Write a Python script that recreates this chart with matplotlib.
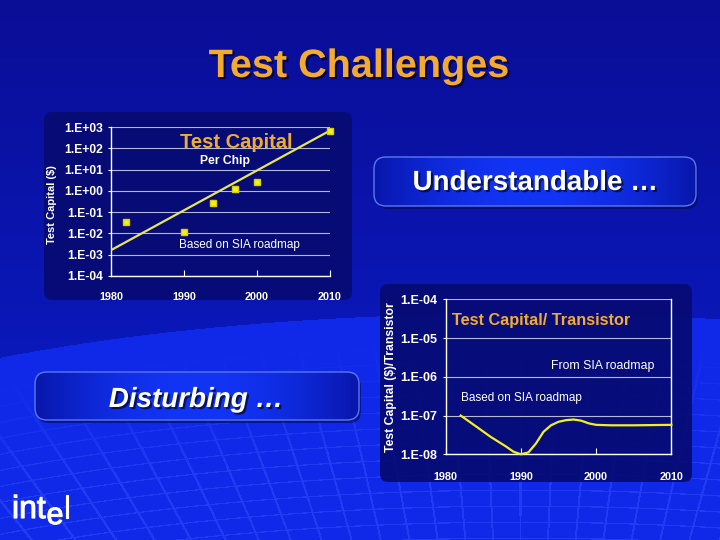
import numpy as np
import matplotlib
matplotlib.use("Agg")
import matplotlib.pyplot as plt
import matplotlib.patheffects as pe
from matplotlib.patches import FancyBboxPatch
from matplotlib.ticker import NullLocator

plt.rcParams["font.family"] = ["Liberation Sans", "DejaVu Sans"]

# ── Data ──────────────────────────────────────────────────────────────────────

# Test capital per chip ($), yearly points and fitted trend
CHIP_YEARS = [1982, 1990, 1994, 1997, 2000, 2010]
CHIP_COST = [0.033, 0.011, 0.27, 1.25, 2.7, 700]
TREND_YEARS = [1980, 2010]
TREND_COST = [0.0016, 700]
CHIP_YTICKS = [1e-4, 1e-3, 1e-2, 1e-1, 1e0, 1e1, 1e2, 1e3]
CHIP_YLABELS = ["1.E-04", "1.E-03", "1.E-02", "1.E-01",
                "1.E+00", "1.E+01", "1.E+02", "1.E+03"]

# Test capital per transistor ($)
TRANS_YEARS = [1982, 1984, 1986, 1988, 1989, 1990, 1991, 1992, 1993, 1994,
               1995, 1996, 1997, 1998, 1999, 2000, 2002, 2005, 2010]
TRANS_COST = [1.0e-7, 5.3e-8, 2.8e-8, 1.6e-8, 1.17e-8, 1.0e-8, 1.12e-8, 1.9e-8,
              3.8e-8, 5.6e-8, 6.9e-8, 7.6e-8, 7.9e-8, 7.4e-8, 6.3e-8, 5.75e-8,
              5.6e-8, 5.6e-8, 5.75e-8]
TRANS_YTICKS = [1e-8, 1e-7, 1e-6, 1e-5, 1e-4]
TRANS_YLABELS = ["1.E-08", "1.E-07", "1.E-06", "1.E-05", "1.E-04"]

XTICKS = [1980, 1990, 2000, 2010]

ORANGE = "#f2aa30"
YELLOW = "#f4f020"
GRID = "#b4b8dc"

# ── Background (slide) ────────────────────────────────────────────────────────

H, W = 540, 720
yy, xx = np.mgrid[0:H, 0:W].astype(float)
t = (yy / H)[..., None]
top = np.array([10, 14, 150]) / 255
bot = np.array([10, 30, 205]) / 255
img = top * (1 - t) + bot * t

# globe with a faint perspective grid in the lower half
cx, cy, a, b = 520.0, 508.0, 820.0, 195.0
inside = ((xx - cx) / a) ** 2 + ((yy - cy) / b) ** 2 < 1
horizon = cy - b * np.sqrt(np.clip(1 - ((xx - cx) / a) ** 2, 0, 1))
depth = yy - horizon
img[inside] = np.array([16, 40, 232]) / 255
ang = np.arctan2(xx - cx, 1150 - yy)
lon = np.abs(((ang / 0.045) % 1) - 0.5) > 0.465
lat = ((depth / 16) % 1) < 0.08
fade = np.clip((depth - 20) / 120, 0, 1)[..., None]
lines = (inside & (lon | lat))[..., None]
line_col = np.array([50, 85, 255]) / 255
img = np.where(lines, img * (1 - 0.45 * fade) + line_col * 0.45 * fade, img)

fig = plt.figure(figsize=(7.2, 5.4), dpi=100)
bg = fig.add_axes([0, 0, 1, 1])
bg.imshow(img, extent=(0, W, H, 0), aspect="auto", zorder=0)
bg.set_xlim(0, W)
bg.set_ylim(H, 0)
bg.axis("off")

# chart panels
for x0, y0, w, h in [(44, 112, 308, 188), (380, 284, 312, 198)]:
    bg.add_patch(FancyBboxPatch((x0, y0), w, h,
                                boxstyle="round,pad=0,rounding_size=8",
                                fc="#060b72", ec="none", alpha=0.92, zorder=1))

# buttons with a soft horizontal gradient
grad = np.linspace(-1, 1, 200)
grad = 1 - np.abs(grad) ** 2
dark = np.array([8, 22, 170]) / 255
light = np.array([18, 52, 245]) / 255
grad_img = (dark * (1 - grad[:, None]) + light * grad[:, None])[None, :, :]

for x0, y0, w, h in [(374, 157, 322, 49), (35, 372, 324, 48)]:
    shadow = FancyBboxPatch((x0 + 2, y0 + 3), w, h,
                            boxstyle="round,pad=0,rounding_size=12",
                            fc="#040a50", ec="none", alpha=0.6, zorder=2)
    bg.add_patch(shadow)
    box = FancyBboxPatch((x0, y0), w, h,
                         boxstyle="round,pad=0,rounding_size=12",
                         fc="none", ec="#5a78f4", lw=1.0, zorder=4)
    bg.add_patch(box)
    im = bg.imshow(grad_img, extent=(x0, x0 + w, y0 + h, y0),
                   aspect="auto", zorder=3)
    im.set_clip_path(box)

shadow_fx = [pe.withSimplePatchShadow(offset=(1.5, -1.5), shadow_rgbFace="black", alpha=0.6)]

bg.text(359, 77, "Test Challenges", color=ORANGE, fontsize=28.5, fontweight="bold",
        ha="center", va="baseline", zorder=5, path_effects=shadow_fx)
bg.text(535, 190, "Understandable \u2026", color="white", fontsize=20, fontweight="bold",
        ha="center", va="baseline", zorder=5, path_effects=shadow_fx)
bg.text(196, 407, "Disturbing \u2026", color="white", fontsize=20, fontweight="bold",
        style="italic", ha="center", va="baseline", zorder=5, path_effects=shadow_fx)

# intel logo
logo_fx = [pe.withStroke(linewidth=0.8, foreground="white")]
bg.text(12, 518, "int", color="white", fontsize=23, ha="left", va="baseline",
        zorder=5, path_effects=logo_fx)
bg.text(46.5, 524, "e", color="white", fontsize=22, ha="left", va="baseline",
        zorder=5, path_effects=logo_fx)
bg.text(63.5, 518, "l", color="white", fontsize=23, ha="left", va="baseline",
        zorder=5, path_effects=logo_fx)

# axis titles
bg.text(52, 205, "Test Capital ($)", color="white", fontsize=8, fontweight="bold",
        rotation=90, ha="center", va="center", zorder=5)
bg.text(391, 377, "Test Capital ($)/Transistor", color="white", fontsize=8.8,
        fontweight="bold", rotation=90, ha="center", va="center", zorder=5)


def style_axes(ax, yticks, ylabels, xpad, right_spine, ysize):
    ax.set_facecolor("none")
    ax.set_yscale("log")
    ax.set_ylim(yticks[0], yticks[-1])
    ax.set_xlim(1980, 2010)
    ax.set_yticks(yticks)
    ax.set_yticklabels(ylabels)
    ax.yaxis.set_minor_locator(NullLocator())
    ax.set_xticks(XTICKS)
    ax.set_xticklabels([str(x) for x in XTICKS])
    ax.grid(axis="y", color=GRID, lw=0.8)
    ax.spines["top"].set_visible(False)
    ax.spines["right"].set_visible(right_spine)
    for s in ["left", "bottom", "right"]:
        ax.spines[s].set_color("white")
        ax.spines[s].set_linewidth(1.0)
    ax.tick_params(axis="x", direction="in", length=4, color="white",
                   pad=xpad, labelsize=7.8, labelcolor="white")
    ax.tick_params(axis="y", direction="out", length=2, color="white",
                   pad=4, labelsize=ysize, labelcolor="white")
    for lab in ax.get_xticklabels() + ax.get_yticklabels():
        lab.set_fontweight("bold")


# ── Chart 1: per chip ─────────────────────────────────────────────────────────

ax1 = fig.add_axes([111 / 720, (540 - 275.7) / 540, 219 / 720, 148.4 / 540])
style_axes(ax1, CHIP_YTICKS, CHIP_YLABELS, xpad=12, right_spine=False, ysize=8.7)
ax1.plot(TREND_YEARS, TREND_COST, color="#e8e458", lw=1.6, zorder=3)
ax1.plot(CHIP_YEARS, CHIP_COST, linestyle="none", marker="s", markersize=4.8,
         color=YELLOW, mec="#d8d000", zorder=4, clip_on=False)
ax1.text(0.315, 0.860, "Test Capital", transform=ax1.transAxes, color=ORANGE,
         fontsize=14.5, fontweight="bold", va="baseline")
ax1.text(0.406, 0.753, "Per Chip", transform=ax1.transAxes, color="white",
         fontsize=8.7, fontweight="bold", va="baseline")
ax1.text(0.312, 0.185, "Based on SIA roadmap", transform=ax1.transAxes,
         color="white", fontsize=8.5, va="baseline")

# ── Chart 2: per transistor ───────────────────────────────────────────────────

ax2 = fig.add_axes([445.7 / 720, (540 - 454.3) / 540, 225.6 / 720, 155 / 540])
style_axes(ax2, TRANS_YTICKS, TRANS_YLABELS, xpad=13, right_spine=True, ysize=9)
ax2.plot(TRANS_YEARS, TRANS_COST, color=YELLOW, lw=1.6, zorder=3, clip_on=False)
ax2.text(0.028, 0.836, "Test Capital/ Transistor", transform=ax2.transAxes,
         color=ORANGE, fontsize=11.7, fontweight="bold", va="baseline")
ax2.text(0.465, 0.548, "From SIA roadmap", transform=ax2.transAxes,
         color="white", fontsize=8.8, va="baseline")
ax2.text(0.069, 0.342, "Based on SIA roadmap", transform=ax2.transAxes,
         color="white", fontsize=8.5, va="baseline")

fig.savefig("out.png", dpi=100)
